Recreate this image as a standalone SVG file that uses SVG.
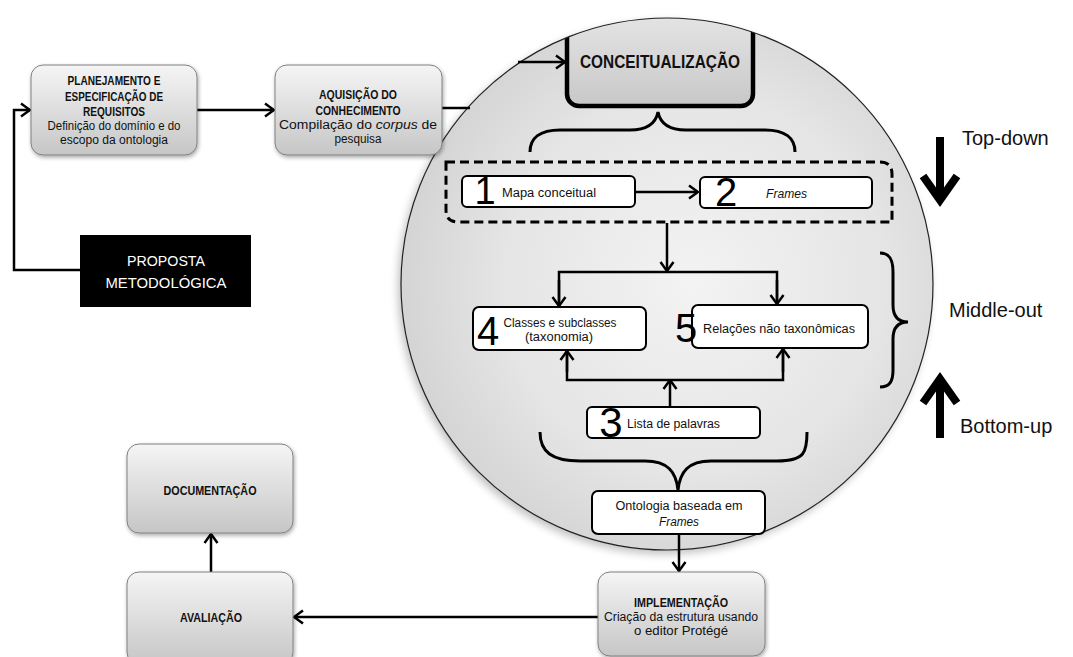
<svg xmlns="http://www.w3.org/2000/svg" width="1073" height="657" viewBox="0 0 1073 657">
  <style>
    .gbox { fill: url(#boxGrad); stroke: #808080; stroke-width: 1; filter: url(#soft); }
    .wbox { fill: #ffffff; stroke: #000; stroke-width: 2; }
    .ttl { font-family: "Liberation Sans", Arial, sans-serif; font-weight: bold; font-size: 12.5px; fill: #111; text-anchor: middle; }
    .txt { font-family: "Liberation Sans", Arial, sans-serif; font-size: 12px; fill: #111; }
    .mid { text-anchor: middle; }
    .num { font-family: "Liberation Sans", Arial, sans-serif; font-size: 40px; fill: #000; text-anchor: middle; }
    .side { font-family: "Liberation Sans", Arial, sans-serif; font-size: 20px; fill: #111; }
    .line { fill: none; stroke: #000; stroke-width: 2.5; }
    .arr { marker-end: url(#head); }
    .brace { fill: none; stroke: #000; stroke-width: 3; }
    .big { fill: none; stroke: #000; stroke-width: 8; }
  </style>
  <defs>
    <linearGradient id="boxGrad" x1="0" y1="0" x2="0" y2="1">
      <stop offset="0" stop-color="#f5f5f5"/>
      <stop offset="1" stop-color="#c6c6c6"/>
    </linearGradient>
    <linearGradient id="conGrad" x1="0" y1="0" x2="0" y2="1">
      <stop offset="0" stop-color="#f2f2f2"/>
      <stop offset="1" stop-color="#c8c8c8"/>
    </linearGradient>
    <radialGradient id="ballGrad" cx="0.55" cy="0.5" r="0.55">
      <stop offset="0" stop-color="#f3f3f3"/>
      <stop offset="0.65" stop-color="#e5e5e5"/>
      <stop offset="1" stop-color="#d4d4d4"/>
    </radialGradient>
    <filter id="soft" x="-10%" y="-10%" width="130%" height="130%">
      <feGaussianBlur in="SourceAlpha" stdDeviation="2"/>
      <feOffset dx="1" dy="2" result="b"/>
      <feComponentTransfer><feFuncA type="linear" slope="0.35"/></feComponentTransfer>
      <feMerge><feMergeNode/><feMergeNode in="SourceGraphic"/></feMerge>
    </filter>
    <filter id="ballShadow" x="-10%" y="-10%" width="120%" height="120%">
      <feGaussianBlur in="SourceAlpha" stdDeviation="4"/>
      <feOffset dx="-3" dy="4"/>
      <feComponentTransfer><feFuncA type="linear" slope="0.25"/></feComponentTransfer>
      <feMerge><feMergeNode/><feMergeNode in="SourceGraphic"/></feMerge>
    </filter>
    <clipPath id="ballClip">
      <circle cx="667" cy="284" r="266"/>
    </clipPath>
    <marker id="head" viewBox="0 0 12 16" refX="10.5" refY="8" markerWidth="12" markerHeight="16" markerUnits="userSpaceOnUse" orient="auto">
      <path d="M1.5,1.5 L10.5,8 L1.5,14.5" fill="none" stroke="#000" stroke-width="2.5"/>
    </marker>
  </defs>

  <rect width="1073" height="657" fill="#ffffff"/>

  <!-- conceptualisation sphere -->
  <g id="sphere">
    <circle cx="667" cy="284" r="266" fill="url(#ballGrad)" filter="url(#ballShadow)"/>
  </g>

  <g id="conceitualizacao">
    <g clip-path="url(#ballClip)">
      <rect x="567" y="-30" width="186" height="136" rx="12" fill="url(#conGrad)" stroke="#000" stroke-width="4.5"/>
    </g>
    <text class="ttl" x="660" y="68" style="font-size:19px" textLength="160" lengthAdjust="spacingAndGlyphs">CONCEITUALIZAÇÃO</text>
  </g>

  <circle cx="667" cy="284" r="266" fill="none" stroke="#222" stroke-width="1.2"/>

  <!-- braces -->
  <g id="braces">
    <path class="brace" d="M530,152 C530,138 540,130 560,130 L630,130 C648,130 656,122 658,112 C660,122 668,130 686,130 L765,130 C785,130 795,138 795,152"/>
    <path class="brace" d="M540,432 C540,452 552,461 580,461 L645,461 C668,461 676,472 678,490 C680,472 688,461 711,461 L777,461 C805,461 807,452 807,432"/>
    <path class="brace" d="M880,253 C890,253 893,260 893,272 L893,305 C893,316 898,322 908,322 C898,322 893,328 893,339 L893,370 C893,381 890,387 880,387"/>
  </g>

  <!-- dashed grouping of steps 1 and 2 -->
  <g id="grupo-topdown">
    <path d="M446,162 L880,162 Q892,162 892,174 L892,222 L458,222 Q446,222 446,210 Z" fill="none" stroke="#000" stroke-width="3" stroke-dasharray="9 5"/>
  </g>

  <!-- connectors -->
  <g id="connectors">
    <polyline class="line arr" points="80,270 14,270 14,110 30,110"/>
    <line class="line arr" x1="197" y1="110" x2="274" y2="110"/>
    <line class="line" x1="442" y1="108" x2="470" y2="108"/>
    <line class="line arr" x1="518" y1="62" x2="565" y2="62"/>
    <line class="line arr" x1="635" y1="192" x2="698" y2="192"/>
    <line class="line arr" x1="667" y1="223" x2="667" y2="271"/>
    <polyline class="line" points="559,306 559,272 777,272 777,304"/>
    <line class="line arr" x1="559" y1="280" x2="559" y2="306"/>
    <line class="line arr" x1="777" y1="280" x2="777" y2="304"/>
    <line class="line arr" x1="670" y1="407" x2="670" y2="380"/>
    <polyline class="line" points="567,351 567,380 783,380 783,349"/>
    <line class="line arr" x1="567" y1="372" x2="567" y2="351"/>
    <line class="line arr" x1="783" y1="372" x2="783" y2="349"/>
    <line class="line arr" x1="679" y1="534" x2="679" y2="571"/>
    <line class="line arr" x1="598" y1="617" x2="294" y2="617"/>
    <line class="line arr" x1="211" y1="572" x2="211" y2="534"/>
  </g>

  <!-- outer process steps -->
  <g id="planejamento">
    <rect class="gbox" x="31" y="65" width="166" height="90" rx="12"/>
    <text class="ttl" x="114" y="85" textLength="93" lengthAdjust="spacingAndGlyphs">PLANEJAMENTO E</text>
    <text class="ttl" x="114" y="101" textLength="98" lengthAdjust="spacingAndGlyphs">ESPECIFICAÇÃO DE</text>
    <text class="ttl" x="114" y="116" textLength="62" lengthAdjust="spacingAndGlyphs">REQUISITOS</text>
    <text class="txt mid" x="114" y="130" textLength="133" lengthAdjust="spacingAndGlyphs">Definição do domínio e do</text>
    <text class="txt mid" x="114" y="144" textLength="108" lengthAdjust="spacingAndGlyphs">escopo da ontologia</text>
  </g>

  <g id="aquisicao">
    <rect class="gbox" x="275" y="65" width="167" height="90" rx="12"/>
    <text class="ttl" x="358" y="99" textLength="78" lengthAdjust="spacingAndGlyphs">AQUISIÇÃO DO</text>
    <text class="ttl" x="358" y="115" textLength="85" lengthAdjust="spacingAndGlyphs">CONHECIMENTO</text>
    <text class="txt mid" x="358" y="129" textLength="158" lengthAdjust="spacingAndGlyphs">Compilação do <tspan font-style="italic">corpus</tspan> de</text>
    <text class="txt mid" x="358" y="143" textLength="47" lengthAdjust="spacingAndGlyphs">pesquisa</text>
  </g>

  <g id="proposta">
    <rect x="80" y="235" width="171" height="72" fill="#000"/>
    <text class="txt mid" x="166" y="266" style="font-size:14px;fill:#fff" textLength="78" lengthAdjust="spacingAndGlyphs">PROPOSTA</text>
    <text class="txt mid" x="166" y="288" style="font-size:14px;fill:#fff" textLength="121" lengthAdjust="spacingAndGlyphs">METODOLÓGICA</text>
  </g>

  <!-- steps inside the sphere -->
  <g id="passo-1">
    <rect class="wbox" x="462" y="176" width="173" height="31" rx="5"/>
    <text class="num" x="485" y="204" style="font-size:38px">1</text>
    <text class="txt" x="502" y="197" textLength="94" lengthAdjust="spacingAndGlyphs">Mapa conceitual</text>
  </g>

  <g id="passo-2">
    <rect class="wbox" x="700" y="177" width="172" height="31" rx="5"/>
    <text class="num" x="726" y="206">2</text>
    <text class="txt" x="766" y="198" font-style="italic" textLength="41" lengthAdjust="spacingAndGlyphs">Frames</text>
  </g>

  <g id="passo-4">
    <rect class="wbox" x="473" y="307" width="173" height="43" rx="6"/>
    <text class="num" x="488" y="345">4</text>
    <text class="txt mid" x="560" y="327" textLength="113" lengthAdjust="spacingAndGlyphs">Classes e subclasses</text>
    <text class="txt mid" x="559" y="341" textLength="68" lengthAdjust="spacingAndGlyphs">(taxonomia)</text>
  </g>

  <g id="passo-5">
    <rect class="wbox" x="692" y="305" width="176" height="43" rx="6"/>
    <text class="num" x="686" y="342">5</text>
    <text class="txt" x="703" y="333" textLength="152" lengthAdjust="spacingAndGlyphs">Relações não taxonômicas</text>
  </g>

  <g id="passo-3">
    <rect class="wbox" x="587" y="407" width="173" height="31" rx="5"/>
    <text class="num" x="611" y="437" style="font-size:42px">3</text>
    <text class="txt" x="627" y="428" textLength="93" lengthAdjust="spacingAndGlyphs">Lista de palavras</text>
  </g>

  <g id="ontologia">
    <rect class="wbox" x="592" y="491" width="173" height="43" rx="6"/>
    <text class="txt mid" x="679" y="510" textLength="127" lengthAdjust="spacingAndGlyphs">Ontologia baseada em</text>
    <text class="txt mid" x="679" y="526" font-style="italic" textLength="40" lengthAdjust="spacingAndGlyphs">Frames</text>
  </g>

  <!-- later process steps -->
  <g id="implementacao">
    <rect class="gbox" x="598" y="572" width="167" height="84" rx="12"/>
    <text class="ttl" x="681" y="607" textLength="94" lengthAdjust="spacingAndGlyphs">IMPLEMENTAÇÃO</text>
    <text class="txt mid" x="681" y="621" textLength="154" lengthAdjust="spacingAndGlyphs">Criação da estrutura usando</text>
    <text class="txt mid" x="681" y="635" textLength="94" lengthAdjust="spacingAndGlyphs">o editor Protégé</text>
  </g>

  <g id="avaliacao">
    <rect class="gbox" x="127" y="572" width="166" height="92" rx="12"/>
    <text class="ttl" x="211" y="622" textLength="62" lengthAdjust="spacingAndGlyphs">AVALIAÇÃO</text>
  </g>

  <g id="documentacao">
    <rect class="gbox" x="127" y="444" width="166" height="89" rx="12"/>
    <text class="ttl" x="210" y="495" textLength="93" lengthAdjust="spacingAndGlyphs">DOCUMENTAÇÃO</text>
  </g>

  <!-- strategy legend -->
  <g id="top-down">
    <line class="big" x1="940" y1="137" x2="940" y2="196"/>
    <polyline class="big" points="923,176 940,200 957,176" stroke-width="7"/>
    <text class="side" x="962" y="145">Top-down</text>
  </g>
  <g id="middle-out">
    <text class="side" x="949" y="317">Middle-out</text>
  </g>
  <g id="bottom-up">
    <line class="big" x1="940" y1="438" x2="940" y2="383"/>
    <polyline class="big" points="923,403 940,379 957,403" stroke-width="7"/>
    <text class="side" x="960" y="433">Bottom-up</text>
  </g>
</svg>
